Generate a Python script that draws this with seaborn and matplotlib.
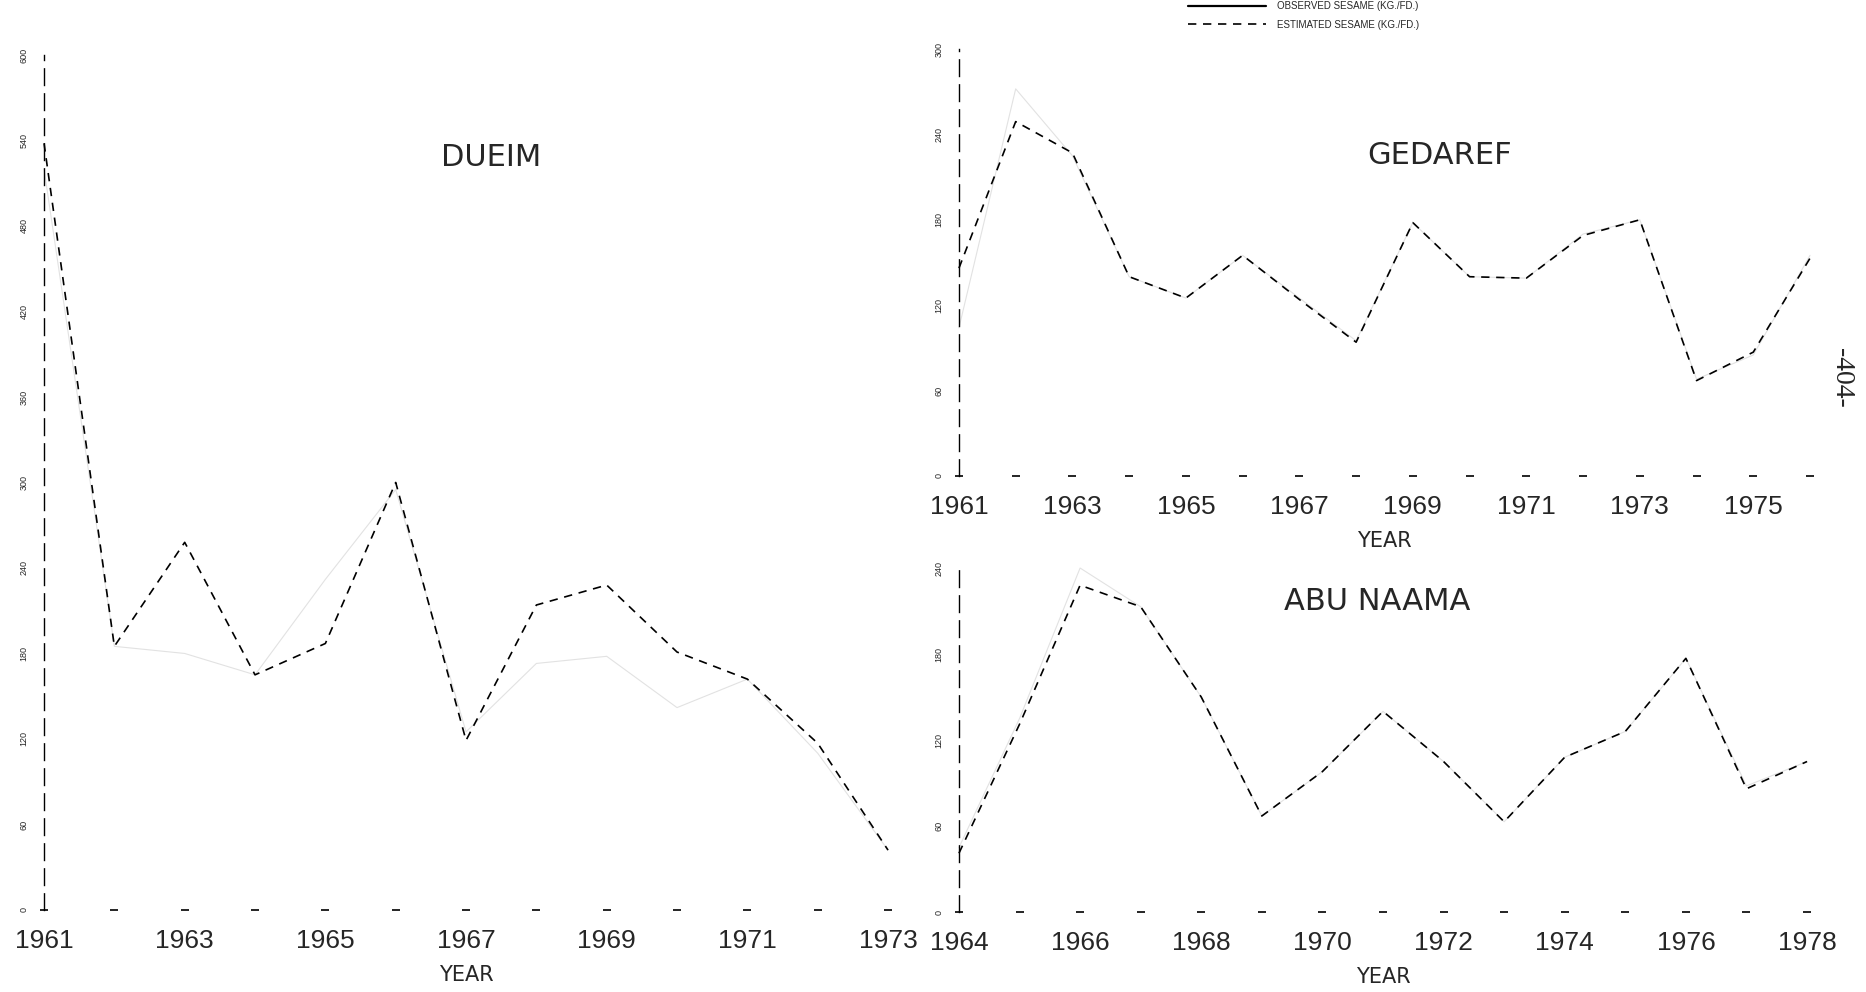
import matplotlib
matplotlib.use("Agg")
import matplotlib.pyplot as plt
from matplotlib.lines import Line2D
import pandas as pd
import seaborn as sns

# ---- sesame yields (KG./FD.) per station ----
dueim_years = list(range(1961, 1974))
dueim_observed = [520, 185, 180, 165, 232, 295, 125, 173, 178, 142, 162, 110, 42]
dueim_estimated = [538, 185, 258, 165, 187, 300, 119, 214, 228, 181, 162, 117, 42]
dueim_year_labels = [1961, 1963, 1965, 1967, 1969, 1971, 1973]
dueim_yticks = [0, 60, 120, 180, 240, 300, 360, 420, 480, 540, 600]

gedaref_years = list(range(1961, 1977))
gedaref_observed = [104, 272, 225, 140, 125, 155, 125, 95, 178, 140, 139, 170, 180, 68, 85, 155]
gedaref_estimated = [146, 249, 227, 140, 125, 155, 124, 94, 178, 140, 139, 169, 180, 67, 87, 153]
gedaref_year_labels = [1961, 1963, 1965, 1967, 1969, 1971, 1973, 1975]
gedaref_yticks = [0, 60, 120, 180, 240, 300]

abu_years = list(range(1964, 1979))
abu_observed = [45, 135, 240, 213, 150, 67, 98, 140, 105, 63, 108, 126, 177, 88, 105]
abu_estimated = [41, 131, 228, 213, 150, 67, 98, 140, 105, 63, 108, 126, 177, 86, 105]
abu_year_labels = [1964, 1966, 1968, 1970, 1972, 1974, 1976, 1978]
abu_yticks = [0, 60, 120, 180, 240]

OBS = "OBSERVED SESAME (KG./FD.)"
EST = "ESTIMATED SESAME (KG./FD.)"

sns.set_style("white")
plt.rcParams["font.family"] = ["Liberation Sans", "DejaVu Sans"]

fig = plt.figure(figsize=(18.66, 9.92), dpi=100)

panels = [
    # name, years, observed, estimated, labelled years, yticks, axes rect, title centre (px)
    ("DUEIM", dueim_years, dueim_observed, dueim_estimated, dueim_year_labels,
     dueim_yticks, [0.0236, 0.0827, 0.4523, 0.8619], (491, 158)),
    ("GEDAREF", gedaref_years, gedaref_observed, gedaref_estimated, gedaref_year_labels,
     gedaref_yticks, [0.5139, 0.5202, 0.4561, 0.4304], (1440, 155)),
    ("ABU NAAMA", abu_years, abu_observed, abu_estimated, abu_year_labels,
     abu_yticks, [0.5139, 0.0806, 0.4545, 0.3468], (1377, 601)),
]

for name, years, obs, est, lab_years, yticks, rect, tpos in panels:
    ax = fig.add_axes(rect)
    df = pd.DataFrame({
        "year": years + years,
        "value": obs + est,
        "series": [OBS] * len(years) + [EST] * len(years),
    })
    sns.lineplot(data=df, x="year", y="value", hue="series", style="series",
                 palette={OBS: "#e2e2e2", EST: "black"},
                 dashes={OBS: "", EST: (5, 4)},
                 size="series", sizes={OBS: 0.8, EST: 1.2},
                 legend=False, ax=ax, clip_on=False)

    # year marks along the zero line
    ax.plot(years, [0] * len(years), ls="none", marker="_", ms=6, mew=1.2,
            color="black", clip_on=False)

    ax.set_xlim(years[0], years[-1])
    ax.set_ylim(yticks[0], yticks[-1])
    ax.set_xticks(lab_years)
    ax.set_xticklabels([str(y) for y in lab_years])
    ax.set_xticks(years, minor=True)
    ax.set_yticks(yticks)
    ax.set_yticklabels([str(v) for v in yticks], rotation=90, va="center")

    ax.tick_params(axis="x", which="both", direction="inout", length=4, width=1,
                   color="black", labelsize=19, pad=12)
    ax.tick_params(axis="y", direction="inout", length=10, width=1,
                   color="black", labelsize=6.5, pad=6)
    ax.set_xlabel("YEAR", fontsize=15, family="DejaVu Sans", labelpad=8)
    ax.set_ylabel("")

    for side in ("top", "right", "bottom"):
        ax.spines[side].set_visible(False)
    ax.spines["left"].set_linestyle((0, (12, 6)))
    ax.spines["left"].set_linewidth(1.0)
    ax.spines["left"].set_color("black")
    ax.patch.set_alpha(0)

    fig.text(tpos[0] / 1866, 1 - tpos[1] / 992, name, ha="center", va="center",
             fontsize=22, family="DejaVu Sans")

handles = [Line2D([], [], color="black", lw=1.6),
           Line2D([], [], color="black", lw=1.2, dashes=(5, 4))]
fig.legend(handles, [OBS, EST], loc="upper left",
           bbox_to_anchor=(1188 / 1866, 1 - 1 / 992), frameon=False,
           fontsize=7, handlelength=8, handletextpad=1.2, labelspacing=0.9,
           borderpad=0, borderaxespad=0)

fig.text(1842 / 1866, 1 - 378 / 992, "-404-", rotation=-90, ha="center",
         va="center", fontsize=20, family="Liberation Serif")

fig.savefig("out.png", dpi=100, facecolor="white")
